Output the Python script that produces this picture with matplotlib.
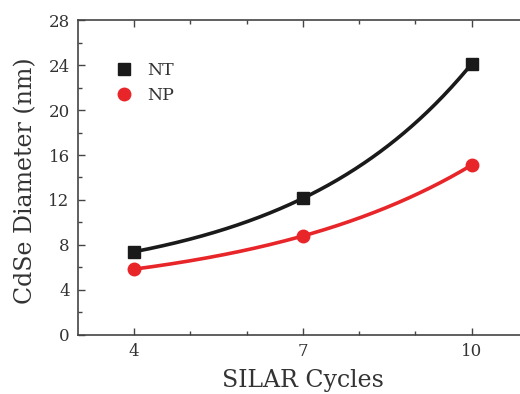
import numpy as np
import matplotlib
matplotlib.use("Agg")
import matplotlib.pyplot as plt
from matplotlib.ticker import MultipleLocator, FixedLocator

cycles = [4, 7, 10]
nt_diam = [7.4, 12.15, 24.1]
np_diam = [5.85, 8.8, 15.1]
xticks = [4, 7, 10]
yticks = [0, 4, 8, 12, 16, 20, 24, 28]


def exp_curve(x, y, xs):
    # y = c + a*exp(b*x) passing through three equally spaced points
    x = np.asarray(x, float)
    y = np.asarray(y, float)
    h = x[1] - x[0]
    b = np.log((y[2] - y[1]) / (y[1] - y[0])) / h
    a = (y[1] - y[0]) / (np.exp(b * x[1]) - np.exp(b * x[0]))
    c = y[0] - a * np.exp(b * x[0])
    return c + a * np.exp(b * xs)


plt.rcParams['font.family'] = ['DejaVu Serif']
fig = plt.figure(figsize=(5.2, 3.94), dpi=100)
ax = fig.add_axes([0.15, 0.15, 0.865, 0.799])

blk = '#1a1a1a'
red = '#e8262a'
xs = np.linspace(cycles[0], cycles[-1], 300)
for vals, c, m, ms, lab in [(nt_diam, blk, 's', 8.5, 'NT'), (np_diam, red, 'o', 9, 'NP')]:
    ax.plot(xs, exp_curve(cycles, vals, xs), color=c, lw=2.6, zorder=2)
    ax.plot(cycles, vals, m, color=c, ms=ms, zorder=3, label=lab)

ax.set_xlim(3, 11)
ax.set_ylim(0, 28)
ax.xaxis.set_major_locator(FixedLocator(xticks))
ax.xaxis.set_minor_locator(FixedLocator([5, 6, 8, 9]))
ax.yaxis.set_major_locator(FixedLocator(yticks))
ax.yaxis.set_minor_locator(MultipleLocator(2))
tc = '#444444'
ax.tick_params(which='both', direction='in', top=True, right=True, colors=tc, labelcolor='#333333')
ax.tick_params(which='major', length=5, width=1, labelsize=12, pad=6)
ax.tick_params(which='minor', length=3, width=1)
for s in ax.spines.values():
    s.set_color(tc)
    s.set_linewidth(1.2)

ax.set_xlabel('SILAR Cycles', fontsize=17, color='#333333', labelpad=6)
ax.set_ylabel('CdSe Diameter (nm)', fontsize=17, color='#333333')
ax.yaxis.set_label_coords(-0.09, 0.49)
leg = ax.legend(loc='upper left', bbox_to_anchor=(0.045, 0.915), frameon=False, fontsize=12.5,
                handletextpad=0.7, labelspacing=0.45, handlelength=1.2, labelcolor='#333333')

fig.savefig('out.png', dpi=100)
